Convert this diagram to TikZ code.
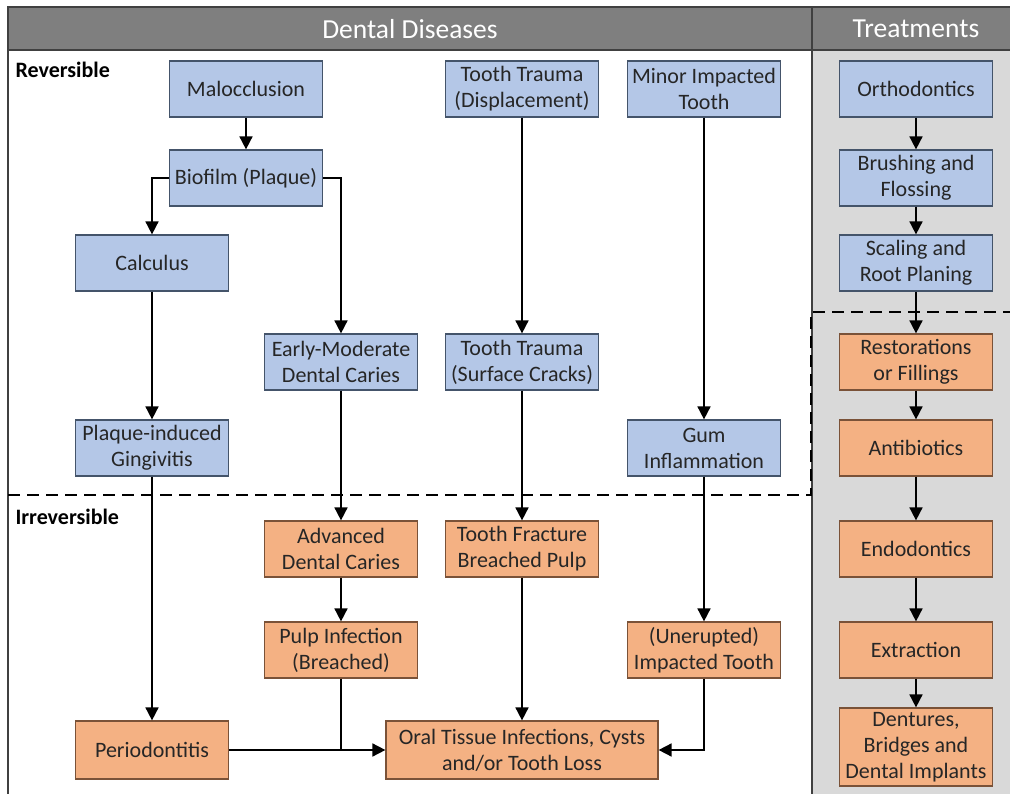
\documentclass[tikz,border=0pt]{standalone}
\usepackage{fontspec}
\setmainfont{Carlito}
\usetikzlibrary{arrows.meta}
\definecolor{blueFill}{HTML}{B4C7E7}
\definecolor{blueLine}{HTML}{44546A}
\definecolor{orangeFill}{HTML}{F4B183}
\definecolor{orangeLine}{HTML}{7A5238}
\definecolor{headGray}{HTML}{7F7F7F}
\definecolor{panelGray}{HTML}{D9D9D9}
\definecolor{frameGray}{HTML}{404040}
\definecolor{ink}{HTML}{262626}

\begin{document}
\begin{tikzpicture}[x=1pt,y=-1pt,
  box/.style={draw, line width=1.2pt, minimum width=153pt, minimum height=56pt,
    align=center, inner sep=1pt, text=ink, font=\fontsize{22}{26}\selectfont},
  rev/.style={box, fill=blueFill, draw=blueLine},
  irr/.style={box, fill=orangeFill, draw=orangeLine},
  link/.style={line width=1.7pt, black, -{Triangle[length=13pt,width=13pt]}},
  wire/.style={line width=1.7pt, black},
  zone/.style={line width=1.7pt, black, dash pattern=on 12pt off 7pt},
  headtext/.style={text=white, font=\fontsize{27.5}{30}\selectfont},
  zonetext/.style={anchor=west, text=black, font=\bfseries\fontsize{22}{26}\selectfont}
]
\useasboundingbox (0,0) rectangle (1010,794);

% panels and header band
\fill[white] (0,0) rectangle (1010,794);
\fill[panelGray] (812,50) rectangle (1010,794);
\fill[headGray] (8,7) rectangle (1010,50);
\draw[frameGray, line width=1.2pt] (8,794) -- (8,7) -- (1010,7);
\draw[frameGray, line width=1.2pt] (8,50) -- (1010,50);
\draw[frameGray, line width=1.2pt] (812,7) -- (812,794);

\node[headtext] (hdis) at (410,29) {Dental Diseases};
\node[headtext] (htreat) at (916,29) {Treatments};

% boundary between reversible and irreversible
\draw[zone] (8,495) -- (811,495) -- (811,312) -- (1010,312);
\node[zonetext] (lrev) at (12,70) {Reversible};
\node[zonetext] (lirr) at (12,517) {Irreversible};

% diseases, reversible
\node[rev] (maloc) at (246,89) {Malocclusion};
\node[rev] (bio) at (246,178) {Biofilm (Plaque)};
\node[rev] (calc) at (152,263) {Calculus};
\node[rev] (early) at (341,362) {Early-Moderate\\Dental Caries};
\node[rev] (ging) at (152,448) {Plaque-induced\\Gingivitis};
\node[rev] (tdisp) at (522,89) {Tooth Trauma\\(Displacement)};
\node[rev] (minor) at (704,89) {Minor Impacted\\Tooth};
\node[rev] (tcrack) at (522,362) {Tooth Trauma\\(Surface Cracks)};
\node[rev] (gum) at (704,448) {Gum\\Inflammation};

% diseases, irreversible
\node[irr] (adv) at (341,549) {Advanced\\Dental Caries};
\node[irr] (tfract) at (522,549) {Tooth Fracture\\Breached Pulp};
\node[irr] (pulp) at (341,650) {Pulp Infection\\(Breached)};
\node[irr] (unerupt) at (704,650) {(Unerupted)\\Impacted Tooth};
\node[irr, minimum height=58pt] (perio) at (152,750) {Periodontitis};
\node[irr, minimum width=272pt, minimum height=58pt] (oral) at (522,750) {Oral Tissue Infections, Cysts\\and/or Tooth Loss};

% treatments
\node[rev] (ortho) at (916,89) {Orthodontics};
\node[rev] (brush) at (916,178) {Brushing and\\Flossing};
\node[rev] (scale) at (916,263) {Scaling and\\Root Planing};
\node[irr] (resto) at (916,362) {Restorations\\or Fillings};
\node[irr] (anti) at (916,448) {Antibiotics};
\node[irr] (endo) at (916,549) {Endodontics};
\node[irr] (extr) at (916,650) {Extraction};
\node[irr, minimum height=78pt] (dent) at (916,747) {Dentures,\\Bridges and\\Dental Implants};

% disease progression
\draw[link] (maloc) -- (bio);
\draw[link] (bio.west) -| (calc.north);
\draw[link] (bio.east) -| (early.north);
\draw[link] (calc) -- (ging);
\draw[link] (ging) -- (perio);
\draw[link] (early) -- (adv);
\draw[link] (adv) -- (pulp);
\draw[wire] (pulp.south) -- (pulp.south |- perio.east);
\draw[link] (perio) -- (oral);
\draw[link] (tdisp) -- (tcrack);
\draw[link] (tcrack) -- (tfract);
\draw[link] (tfract) -- (oral);
\draw[link] (minor) -- (gum);
\draw[link] (gum) -- (unerupt);
\draw[link] (unerupt.south) |- (oral.east);

% treatment sequence
\foreach \a/\b in {ortho/brush, brush/scale, scale/resto, resto/anti,
                   anti/endo, endo/extr, extr/dent}
  \draw[link] (\a) -- (\b);
\end{tikzpicture}
\end{document}
